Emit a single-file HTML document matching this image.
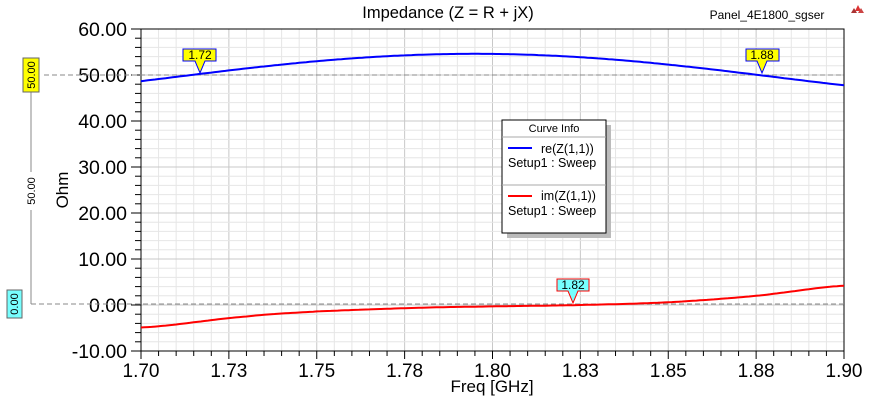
<!DOCTYPE html>
<html><head><meta charset="utf-8"><style>
body{margin:0;background:#fff;width:871px;height:401px;overflow:hidden}
svg{display:block;font-family:"Liberation Sans",sans-serif}
</style></head><body>
<svg id="s" width="871" height="401" xmlns="http://www.w3.org/2000/svg">
<text x="448" y="18" font-size="16.5" text-anchor="middle" fill="#000">Impedance (Z = R + jX)</text>
<text x="767" y="19" font-size="12" text-anchor="middle" fill="#000">Panel_4E1800_sgser</text>
<g fill="#d33"><polygon points="855,11 858,5 861,11"/><polygon points="851,13 854,8 857,13" fill="#a33"/><polygon points="858,13 861,8 864,13" fill="#c44"/></g>
<g id="grid"></g>
<text transform="translate(68,190) rotate(-90)" font-size="17" text-anchor="middle">Ohm</text>
<text x="492" y="392" font-size="17" text-anchor="middle">Freq [GHz]</text>
<line x1="44" y1="75" x2="844" y2="75" stroke="#888" stroke-dasharray="5,3"/>
<line x1="31" y1="304" x2="844" y2="304" stroke="#888" stroke-dasharray="5,3"/>
<line x1="31" y1="92" x2="31" y2="304" stroke="#888"/>
<rect x="23" y="58" width="16" height="34" fill="#ff0" stroke="#666"/>
<text transform="translate(35,75) rotate(-90)" font-size="11" text-anchor="middle">50.00</text>
<rect x="7" y="290" width="15" height="28" fill="#7ff" stroke="#666"/>
<text transform="translate(18,304) rotate(-90)" font-size="11" text-anchor="middle">0.00</text>
<rect x="27" y="172" width="8" height="38" fill="#fff"/>
<text transform="translate(35,191) rotate(-90)" font-size="11" text-anchor="middle">50.00</text>
<g id="curves"></g>
<g font-size="12" text-anchor="middle">
<polygon points="183,49 216,49 216,61 205,61 200,73 195,61 183,61" fill="#ff0" stroke="#00f"/>
<text x="200" y="59">1.72</text>
<polygon points="746,49 779,49 779,61 767,61 762,73 757,61 746,61" fill="#ff0" stroke="#00f"/>
<text x="762" y="59">1.88</text>
<polygon points="557,279 589,279 589,291 578,291 573,303 568,291 557,291" fill="#7ff" stroke="#f00"/>
<text x="573" y="289">1.82</text>
</g>
<rect x="507" y="125" width="104" height="113" fill="#bbb"/>
<rect x="502" y="120" width="104" height="113" fill="#fff" stroke="#000"/>
<line x1="502" y1="137" x2="606" y2="137" stroke="#aaa"/>
<line x1="502" y1="185" x2="606" y2="185" stroke="#aaa"/>
<text x="554" y="132" font-size="11" text-anchor="middle">Curve Info</text>
<line x1="508" y1="148" x2="532" y2="148" stroke="#00f" stroke-width="2"/>
<text x="541" y="153" font-size="12.5">re(Z(1,1))</text>
<text x="508" y="167" font-size="12.5">Setup1 : Sweep</text>
<line x1="508" y1="196" x2="532" y2="196" stroke="#f00" stroke-width="2"/>
<text x="541" y="200" font-size="12.5">im(Z(1,1))</text>
<text x="508" y="215" font-size="12.5">Setup1 : Sweep</text>
</svg>
<script>
const L=141,R=844,T=29,B=351;
const X=f=>L+(f-1.7)/0.2*(R-L), Y=v=>B-(v+10)/70*(B-T);
let g='';
for(let i=0;i<=40;i++){const x=X(1.7+i*0.005);const maj=i%5==0;
 g+=`<line x1="${x}" y1="${T}" x2="${x}" y2="${B}" stroke="${maj?'#c8c8c8':'#e6e6e6'}"/>`;
 g+=`<line x1="${x}" y1="${B}" x2="${x}" y2="${B+(maj?8:5)}" stroke="#000"/>`;}
for(let i=0;i<=35;i++){const y=Y(-10+i*2);const maj=i%5==0;
 g+=`<line x1="${L}" y1="${y}" x2="${R}" y2="${y}" stroke="${maj?'#c8c8c8':'#e6e6e6'}"/>`;
 g+=`<line x1="${L-(maj?10:6)}" y1="${y}" x2="${L}" y2="${y}" stroke="#000"/>`;}
g+=`<rect x="${L}" y="${T}" width="${R-L}" height="${B-T}" fill="none" stroke="#000"/>`;
const xl=['1.70','1.73','1.75','1.78','1.80','1.83','1.85','1.88','1.90'];
xl.forEach((t,i)=>{g+=`<text x="${X(1.7+i*0.025)}" y="377" font-size="19" text-anchor="middle">${t}</text>`});
for(let i=0;i<=7;i++){const v=-10+i*10;g+=`<text x="127" y="${Y(v)+7}" font-size="19.5" text-anchor="end">${v.toFixed(2)}</text>`}
document.getElementById('grid').innerHTML=g;
function re(f){const u=(f-1.795)/0.1;return 54.6-8.3*u*u+1.9*u*u*u*u}
const ip=[[1.70,-4.9],[1.73,-2.5],[1.75,-1.4],[1.78,-0.6],[1.80,-0.3],[1.825,0],[1.85,0.6],[1.875,2.0],[1.90,4.2]];
function im(f){for(let i=0;i<ip.length-1;i++){const[a,va]=ip[i],[b,vb]=ip[i+1];if(f<=b+1e-9){
 const p0=ip[Math.max(i-1,0)][1],p3=ip[Math.min(i+2,ip.length-1)][1];const t=(f-a)/(b-a);
 return 0.5*((2*va)+(-p0+vb)*t+(2*p0-5*va+4*vb-p3)*t*t+(-p0+3*va-3*vb+p3)*t*t*t)}}return 4.2}
let a='',b='';for(let i=0;i<=200;i++){const f=1.7+i*0.001;a+=`${X(f).toFixed(1)},${Y(re(f)).toFixed(1)} `;b+=`${X(f).toFixed(1)},${Y(im(f)).toFixed(1)} `}
document.getElementById('curves').innerHTML=`<polyline points="${a}" fill="none" stroke="#00f" stroke-width="2"/><polyline points="${b}" fill="none" stroke="#f00" stroke-width="2"/>`;
</script>
</body></html>
